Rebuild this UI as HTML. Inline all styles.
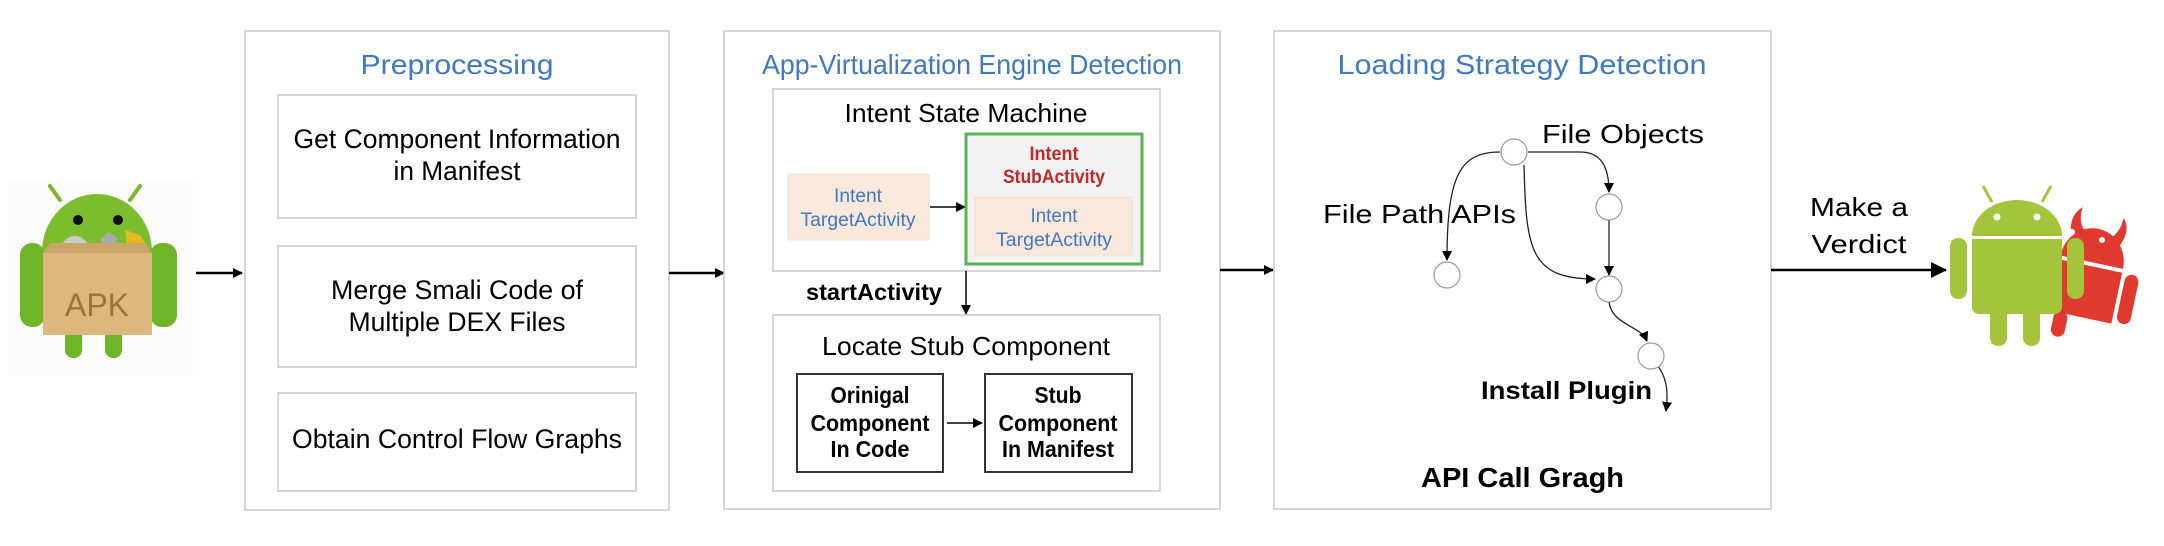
<!DOCTYPE html>
<html><head><meta charset="utf-8"><style>
html,body{margin:0;padding:0;background:#fff;}
svg{display:block;font-family:"Liberation Sans",sans-serif;}
</style></head><body>
<svg width="2164" height="546" viewBox="0 0 2164 546" xmlns="http://www.w3.org/2000/svg">
<defs>
<marker id="ah" markerWidth="10" markerHeight="10" refX="9" refY="5" orient="auto" markerUnits="userSpaceOnUse"><path d="M0,0 L10,5 L0,10 z" fill="#000"/></marker>
<marker id="ab" markerWidth="16" markerHeight="16" refX="15" refY="8" orient="auto" markerUnits="userSpaceOnUse"><path d="M0,0 L16,8 L0,16 z" fill="#000"/></marker>
</defs>

<!-- APK android -->
<rect x="9" y="180" width="184" height="195" fill="#fbfbfb"/>
<line x1="50" y1="186" x2="60" y2="200" stroke="#7cb82a" stroke-width="4" stroke-linecap="round"/>
<line x1="140" y1="186" x2="130" y2="200" stroke="#7cb82a" stroke-width="4" stroke-linecap="round"/>
<path d="M42,252 A55,58 0 0 1 152,252 z" fill="#7cbd2e"/>
<circle cx="78" cy="220" r="5" fill="#111"/><circle cx="118" cy="220" r="5" fill="#111"/>
<rect x="20" y="243" width="25" height="84" rx="12" fill="#6fb52a"/>
<rect x="150" y="243" width="27" height="84" rx="12" fill="#6fb52a"/>
<rect x="65" y="325" width="17" height="33" rx="8" fill="#6fb52a"/>
<rect x="105" y="325" width="17" height="33" rx="8" fill="#6fb52a"/>
<circle cx="75" cy="250" r="14" fill="#ccc"/><path d="M100,240 l8,-8 l10,6 l-6,16z" fill="#aaa"/><path d="M125,230 l15,5 l8,12 l-20,6z" fill="#e8b820"/>
<path d="M43,253 L152,253 L145,243 L50,243 z" fill="#c9a56a"/>
<rect x="43" y="253" width="109" height="82" fill="#dcb87c"/>
<text x="97" y="316" font-size="32" fill="#9a7440" text-anchor="middle">APK</text>

<line x1="196" y1="273" x2="242" y2="273" stroke="#000" stroke-width="2.5" marker-end="url(#ah)"/>

<!-- Preprocessing -->
<rect x="245" y="31" width="424" height="479" fill="none" stroke="#c8c8c8" stroke-width="1.5"/>
<text x="457" y="74" font-size="28" fill="#3f78c5" text-anchor="middle" textLength="193" lengthAdjust="spacingAndGlyphs">Preprocessing</text>
<rect x="278" y="95" width="358" height="123" fill="none" stroke="#c8c8c8" stroke-width="1.5"/>
<text x="457" y="148" font-size="27" text-anchor="middle" textLength="327" lengthAdjust="spacingAndGlyphs">Get Component Information</text>
<text x="457" y="180" font-size="27" text-anchor="middle" textLength="127" lengthAdjust="spacingAndGlyphs">in Manifest</text>
<rect x="278" y="246" width="358" height="121" fill="none" stroke="#c8c8c8" stroke-width="1.5"/>
<text x="457" y="299" font-size="27" text-anchor="middle" textLength="252" lengthAdjust="spacingAndGlyphs">Merge Smali Code of</text>
<text x="457" y="331" font-size="27" text-anchor="middle" textLength="217" lengthAdjust="spacingAndGlyphs">Multiple DEX Files</text>
<rect x="278" y="393" width="358" height="98" fill="none" stroke="#c8c8c8" stroke-width="1.5"/>
<text x="457" y="448" font-size="27" text-anchor="middle" textLength="330" lengthAdjust="spacingAndGlyphs">Obtain Control Flow Graphs</text>

<line x1="669" y1="273" x2="724" y2="273" stroke="#000" stroke-width="2.5" marker-end="url(#ah)"/>

<!-- AVED -->
<rect x="724" y="31" width="496" height="478" fill="none" stroke="#c8c8c8" stroke-width="1.5"/>
<text x="972" y="74" font-size="28" fill="#3f78c5" text-anchor="middle" textLength="420" lengthAdjust="spacingAndGlyphs">App-Virtualization Engine Detection</text>
<rect x="773" y="89" width="387" height="182" fill="none" stroke="#c8c8c8" stroke-width="1.5"/>
<text x="966" y="122" font-size="26" text-anchor="middle" textLength="243" lengthAdjust="spacingAndGlyphs">Intent State Machine</text>
<rect x="788" y="174" width="141" height="66" fill="#fae8dc" stroke="#f0e0d6"/>
<text x="858" y="202" font-size="19" fill="#3f78c5" text-anchor="middle" textLength="48" lengthAdjust="spacingAndGlyphs">Intent</text>
<text x="858" y="226" font-size="19" fill="#3f78c5" text-anchor="middle" textLength="115" lengthAdjust="spacingAndGlyphs">TargetActivity</text>
<line x1="930" y1="207" x2="965" y2="207" stroke="#000" stroke-width="1.5" marker-end="url(#ah)"/>
<rect x="966" y="134" width="176" height="130" fill="#f2f2f2" stroke="#58b35a" stroke-width="3"/>
<text x="1054" y="160" font-size="19" font-weight="bold" fill="#c0282a" text-anchor="middle" textLength="49" lengthAdjust="spacingAndGlyphs">Intent</text>
<text x="1054" y="183" font-size="19" font-weight="bold" fill="#c0282a" text-anchor="middle" textLength="102" lengthAdjust="spacingAndGlyphs">StubActivity</text>
<rect x="975" y="197" width="157" height="58" fill="#fae8dc" stroke="#f0e0d6"/>
<text x="1054" y="222" font-size="19" fill="#3f78c5" text-anchor="middle" textLength="47" lengthAdjust="spacingAndGlyphs">Intent</text>
<text x="1054" y="246" font-size="19" fill="#3f78c5" text-anchor="middle" textLength="116" lengthAdjust="spacingAndGlyphs">TargetActivity</text>
<text x="806" y="300" font-size="23" font-weight="bold" textLength="136" lengthAdjust="spacingAndGlyphs">startActivity</text>
<line x1="966" y1="271" x2="966" y2="314" stroke="#000" stroke-width="1.5" marker-end="url(#ah)"/>
<rect x="773" y="315" width="387" height="176" fill="none" stroke="#c8c8c8" stroke-width="1.5"/>
<text x="966" y="355" font-size="26" text-anchor="middle" textLength="288" lengthAdjust="spacingAndGlyphs">Locate Stub Component</text>
<rect x="797" y="374" width="146" height="98" fill="none" stroke="#333" stroke-width="2"/>
<text x="870" y="403" font-size="23" font-weight="bold" text-anchor="middle" textLength="79" lengthAdjust="spacingAndGlyphs">Orinigal</text>
<text x="870" y="431" font-size="23" font-weight="bold" text-anchor="middle" textLength="119" lengthAdjust="spacingAndGlyphs">Component</text>
<text x="870" y="457" font-size="23" font-weight="bold" text-anchor="middle" textLength="79" lengthAdjust="spacingAndGlyphs">In Code</text>
<line x1="947" y1="423" x2="982" y2="423" stroke="#000" stroke-width="1.5" marker-end="url(#ah)"/>
<rect x="985" y="374" width="147" height="98" fill="none" stroke="#333" stroke-width="2"/>
<text x="1058" y="403" font-size="23" font-weight="bold" text-anchor="middle" textLength="47" lengthAdjust="spacingAndGlyphs">Stub</text>
<text x="1058" y="431" font-size="23" font-weight="bold" text-anchor="middle" textLength="119" lengthAdjust="spacingAndGlyphs">Component</text>
<text x="1058" y="457" font-size="23" font-weight="bold" text-anchor="middle" textLength="112" lengthAdjust="spacingAndGlyphs">In Manifest</text>

<line x1="1220" y1="270" x2="1273" y2="270" stroke="#000" stroke-width="2.5" marker-end="url(#ah)"/>

<!-- LSD -->
<rect x="1274" y="31" width="497" height="478" fill="none" stroke="#c8c8c8" stroke-width="1.5"/>
<text x="1522" y="74" font-size="28" fill="#3f78c5" text-anchor="middle" textLength="369" lengthAdjust="spacingAndGlyphs">Loading Strategy Detection</text>
<g fill="none" stroke="#222" stroke-width="1.3">
<path d="M1500,152 C1460,152 1447,175 1447,260" marker-end="url(#ah)"/>
<path d="M1528,152 L1580,152 C1600,152 1609,165 1609,192" marker-end="url(#ah)"/>
<path d="M1524,165 C1526,250 1530,279 1595,279" marker-end="url(#ah)"/>
<path d="M1609,220 L1609,275" marker-end="url(#ah)"/>
<path d="M1609,302 C1612,325 1640,325 1647,341" marker-end="url(#ah)"/>
<path d="M1658,366 C1668,380 1668,395 1666,411" marker-end="url(#ah)"/>
</g>
<g fill="#fff" stroke="#999" stroke-width="1.2">
<ellipse cx="1514" cy="152" rx="13" ry="13"/>
<ellipse cx="1609" cy="207" rx="13" ry="13"/>
<ellipse cx="1447" cy="275" rx="13" ry="13"/>
<ellipse cx="1609" cy="289" rx="13" ry="13"/>
<ellipse cx="1651" cy="356" rx="13" ry="13"/>
</g>
<text x="1542" y="143" font-size="26" textLength="162" lengthAdjust="spacingAndGlyphs">File Objects</text>
<text x="1323" y="223" font-size="26" textLength="193" lengthAdjust="spacingAndGlyphs">File Path APIs</text>
<text x="1481" y="399" font-size="25" font-weight="bold" textLength="171" lengthAdjust="spacingAndGlyphs">Install Plugin</text>
<text x="1421" y="487" font-size="28" font-weight="bold" textLength="203" lengthAdjust="spacingAndGlyphs">API Call Gragh</text>

<line x1="1771" y1="270" x2="1946" y2="270" stroke="#000" stroke-width="2.5" marker-end="url(#ab)"/>
<text x="1859" y="216" font-size="26" text-anchor="middle" textLength="98" lengthAdjust="spacingAndGlyphs">Make a</text>
<text x="1859" y="253" font-size="26" text-anchor="middle" textLength="95" lengthAdjust="spacingAndGlyphs">Verdict</text>

<!-- red devil -->
<g fill="#e0392f" transform="rotate(12 2090 270)">
<path d="M2058,262 A32,34 0 0 1 2122,262 z"/>
<path d="M2064,240 q-6,-20 6,-30 q-2,14 6,22z"/>
<path d="M2114,240 q8,-18 -2,-28 q0,14 -8,22z"/>
<rect x="2058" y="266" width="64" height="52"/>
<rect x="2126" y="266" width="14" height="50" rx="7"/>
<rect x="2064" y="316" width="14" height="26" rx="7"/>
</g>
<circle cx="2072" cy="232" r="3" fill="#fff"/><circle cx="2102" cy="240" r="3" fill="#fff"/>
<!-- green android -->
<g fill="#a4c43c">
<line x1="1983" y1="186" x2="1992" y2="202" stroke="#a4c43c" stroke-width="3"/>
<line x1="2051" y1="186" x2="2042" y2="202" stroke="#a4c43c" stroke-width="3"/>
<path d="M1972,236 A45,36 0 0 1 2062,236 z"/>
<rect x="1972" y="239" width="90" height="70"/>
<rect x="1972" y="300" width="90" height="14" rx="7"/>
<rect x="1950" y="238" width="17" height="61" rx="8"/>
<rect x="2067" y="238" width="17" height="61" rx="8"/>
<rect x="1990" y="305" width="17" height="41" rx="8"/>
<rect x="2023" y="305" width="17" height="41" rx="8"/>
</g>
<circle cx="1997" cy="217" r="3.5" fill="#fff"/><circle cx="2037" cy="217" r="3.5" fill="#fff"/>
</svg>
</body></html>
